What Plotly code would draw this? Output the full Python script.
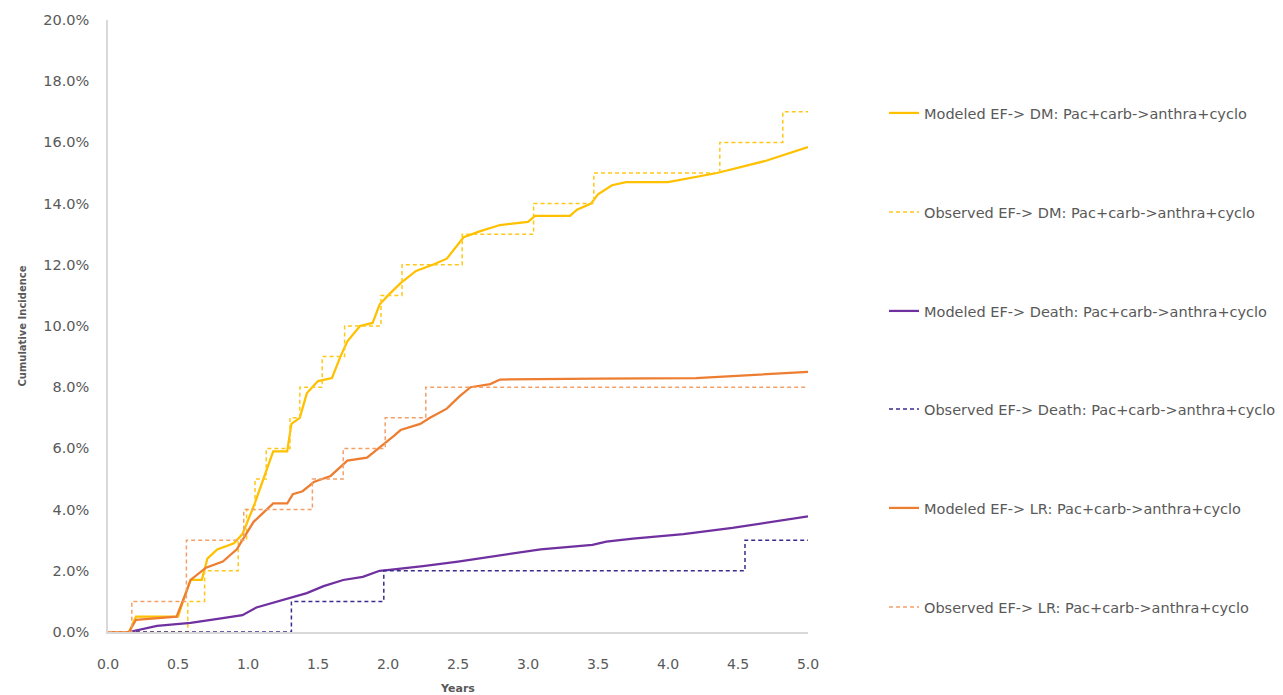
import plotly.graph_objects as go

# Time in years, cumulative incidence in percent
mod_dm_t = [0, 0.15, 0.2, 0.5, 0.55, 0.59, 0.67, 0.71, 0.78, 0.9, 0.96, 1.04, 1.11, 1.18, 1.28,
            1.31, 1.37, 1.42, 1.5, 1.6, 1.66, 1.71, 1.8, 1.89, 1.94, 2.0, 2.09, 2.2, 2.32, 2.42,
            2.54, 2.66, 2.8, 3.0, 3.05, 3.3, 3.35, 3.45, 3.5, 3.6, 3.7, 4.0, 4.35, 4.7, 5.0]
mod_dm_v = [0, 0, 0.5, 0.5, 1.2, 1.7, 1.7, 2.4, 2.7, 2.9, 3.2, 4.1, 5.0, 5.9, 5.9,
            6.8, 7.0, 7.8, 8.2, 8.3, 9.0, 9.5, 10.0, 10.1, 10.7, 11.0, 11.4, 11.8, 12.0, 12.2,
            12.9, 13.1, 13.3, 13.4, 13.6, 13.6, 13.8, 14.0, 14.3, 14.6, 14.7, 14.7, 15.0, 15.4, 15.85]

obs_dm_t = [0, 0.57, 0.69, 0.93, 0.99, 1.05, 1.13, 1.30, 1.37, 1.53, 1.69, 1.95, 2.10, 2.53,
            3.04, 3.47, 4.37, 4.82, 5.0]
obs_dm_v = [0, 1, 2, 3, 4, 5, 6, 7, 8, 9, 10, 11, 12, 13, 14, 15, 16, 17, 17]

mod_death_t = [0, 0.15, 0.35, 0.59, 0.82, 0.96, 1.06, 1.18, 1.3, 1.42, 1.54, 1.68, 1.82, 1.94,
               2.01, 2.25, 2.5, 2.8, 3.09, 3.46, 3.56, 3.75, 4.11, 4.46, 5.0]
mod_death_v = [0, 0, 0.2, 0.3, 0.45, 0.55, 0.8, 0.95, 1.1, 1.27, 1.5, 1.7, 1.8, 2.0,
               2.03, 2.15, 2.3, 2.5, 2.7, 2.85, 2.95, 3.05, 3.2, 3.4, 3.78]

obs_death_t = [0, 1.31, 1.97, 4.55, 5.0]
obs_death_v = [0, 1, 2, 3, 3]

mod_lr_t = [0, 0.15, 0.2, 0.49, 0.55, 0.59, 0.7, 0.82, 0.92, 0.99, 1.04, 1.11, 1.18, 1.28, 1.32,
            1.39, 1.47, 1.59, 1.71, 1.85, 1.99, 2.04, 2.09, 2.23, 2.3, 2.42, 2.51, 2.59, 2.73,
            2.8, 3.5, 4.2, 5.0]
mod_lr_v = [0, 0, 0.4, 0.5, 1.2, 1.7, 2.1, 2.3, 2.7, 3.2, 3.6, 3.9, 4.2, 4.2, 4.5,
            4.6, 4.9, 5.1, 5.6, 5.7, 6.2, 6.4, 6.6, 6.8, 7.0, 7.3, 7.7, 8.0, 8.1,
            8.25, 8.28, 8.3, 8.5]

obs_lr_t = [0, 0.17, 0.56, 0.97, 1.46, 1.68, 1.98, 2.27, 5.0]
obs_lr_v = [0, 1, 3, 4, 5, 6, 7, 8, 8]

series_names = [
    "Modeled EF-> DM: Pac+carb->anthra+cyclo",
    "Observed EF-> DM: Pac+carb->anthra+cyclo",
    "Modeled EF-> Death: Pac+carb->anthra+cyclo",
    "Observed EF-> Death: Pac+carb->anthra+cyclo",
    "Modeled EF-> LR: Pac+carb->anthra+cyclo",
    "Observed EF-> LR: Pac+carb->anthra+cyclo",
]

x_ticks = [0, 0.5, 1, 1.5, 2, 2.5, 3, 3.5, 4, 4.5, 5]
x_ticktext = ["0.0", "0.5", "1.0", "1.5", "2.0", "2.5", "3.0", "3.5", "4.0", "4.5", "5.0"]
y_ticks = [0, 2, 4, 6, 8, 10, 12, 14, 16, 18, 20]
y_ticktext = ["0.0%", "2.0%", "4.0%", "6.0%", "8.0%", "10.0%", "12.0%", "14.0%",
              "16.0%", "18.0%", "20.0%"]

FONT = "DejaVu Sans"
GREY = "#595959"

series = [
    (mod_dm_t, mod_dm_v, "#FFC000", 2.25, "solid", "linear"),
    (obs_dm_t, obs_dm_v, "#FFC819", 1.5, "4px,3px", "hv"),
    (mod_death_t, mod_death_v, "#7030A0", 2.25, "solid", "linear"),
    (obs_death_t, obs_death_v, "#3A2C8C", 1.5, "4px,3px", "hv"),
    (mod_lr_t, mod_lr_v, "#ED7D31", 2.25, "solid", "linear"),
    (obs_lr_t, obs_lr_v, "#F2A06A", 1.5, "4px,3px", "hv"),
]

fig = go.Figure()
legend_ids = ["legend", "legend2", "legend3", "legend4", "legend5", "legend6"]
for (t, v, color, w, dash, shape), name, lg in zip(series, series_names, legend_ids):
    fig.add_trace(go.Scatter(
        x=t, y=v, mode="lines", name=name, legend=lg,
        line=dict(color=color, width=w, dash=dash, shape=shape),
    ))

# Plot area in pixels: x 108..808, y 20..632
W, H = 1283, 695
L, R, T, B = 108, 808, 20, 632
legend_rows = [113, 212, 311, 409, 508, 607]
layout_legends = {}
for lg, ypx in zip(legend_ids, legend_rows):
    layout_legends[lg] = dict(
        x=(884 - L) / (R - L), xanchor="left",
        y=(B - ypx) / (B - T), yanchor="middle",
        font=dict(family=FONT, size=14.5, color=GREY),
        bgcolor="rgba(0,0,0,0)",
    )

fig.update_layout(
    width=W, height=H,
    margin=dict(l=L, r=W - R, t=T, b=H - B, autoexpand=False),
    paper_bgcolor="white", plot_bgcolor="white",
    showlegend=True,
    font=dict(family=FONT, color=GREY),
    **layout_legends,
)

fig.update_xaxes(
    range=[0, 5], tickvals=x_ticks, ticktext=x_ticktext,
    showgrid=False, zeroline=False,
    showline=True, linecolor="#D9D9D9", linewidth=1.5,
    ticks="", ticklabelstandoff=18,
    tickfont=dict(family=FONT, size=14, color=GREY),
    title=dict(text="<b>Years</b>", font=dict(family=FONT, size=11, color=GREY), standoff=14),
)
fig.update_yaxes(
    range=[0, 20], tickvals=y_ticks, ticktext=y_ticktext,
    showgrid=False, zeroline=False,
    showline=True, linecolor="#D9D9D9", linewidth=1.5,
    ticks="", ticklabelstandoff=14,
    tickfont=dict(family=FONT, size=14.5, color=GREY),
    title=dict(text="<b>Cumulative Incidence</b>", font=dict(family=FONT, size=10, color=GREY),
               standoff=15),
)

fig.write_html("out.html")
